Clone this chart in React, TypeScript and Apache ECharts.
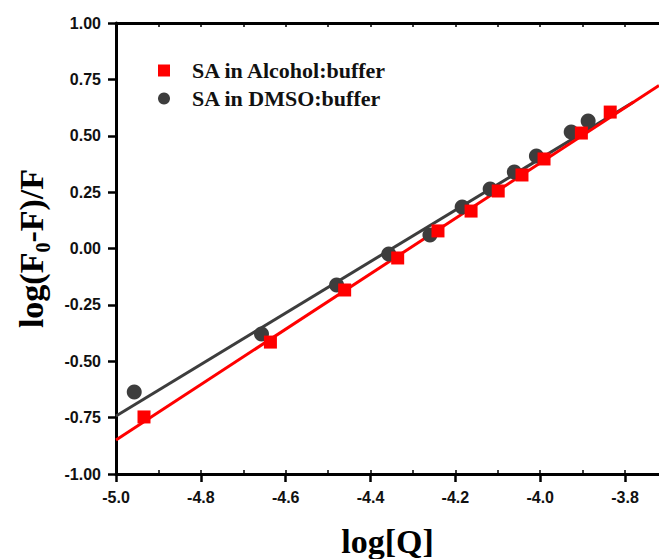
import React, { useEffect, useRef } from "react";
import * as echarts from "echarts";

const alcoholX = [-4.934, -4.636, -4.461, -4.336, -4.241, -4.163, -4.099, -4.043, -3.991, -3.903, -3.835];
const alcoholY = [-0.747, -0.415, -0.184, -0.042, 0.078, 0.166, 0.255, 0.326, 0.397, 0.512, 0.605];
const dmsoX = [-4.957, -4.657, -4.48, -4.357, -4.26, -4.184, -4.118, -4.061, -4.009, -3.927, -3.887];
const dmsoY = [-0.636, -0.379, -0.162, -0.024, 0.06, 0.184, 0.264, 0.339, 0.41, 0.517, 0.565];
const alcoholFitX = [-5.0, -3.72];
const alcoholFitY = [-0.849, 0.723];
const dmsoFitX = [-5.0, -3.78];
const dmsoFitY = [-0.743, 0.65];
const xMajorTicks = [-5.0, -4.8, -4.6, -4.4, -4.2, -4.0, -3.8];
const xMinorTicks = [-5.0, -4.9, -4.8, -4.7, -4.6, -4.5, -4.4, -4.3, -4.2, -4.1, -4.0, -3.9, -3.8];
const yTicks = [-1.0, -0.75, -0.5, -0.25, 0.0, 0.25, 0.5, 0.75, 1.0];
const seriesNames = ["SA in Alcohol:buffer", "SA in DMSO:buffer"];
const xTitle = "log[Q]";

const RED = "#ff0000";
const GRAY = "#3d3d3d";
const SERIF = "'Liberation Serif', 'Times New Roman', serif";
const SANS = "'Liberation Sans', Arial, sans-serif";

const zip = (xs: number[], ys: number[]) => xs.map((x, i) => [x, ys[i]]);

export default function App() {
  const ref = useRef<HTMLDivElement>(null);
  useEffect(() => {
    if (!ref.current) return;
    const chart = echarts.init(ref.current, undefined, { renderer: "svg" });
    const xMin = xMajorTicks[0];
    const xMax = -3.72;
    const baseX = { type: "value", min: xMin, max: xMax, splitLine: { show: false } };
    chart.setOption({
      animation: false,
      backgroundColor: "#fff",
      grid: { left: 116, top: 23, right: 0, bottom: 85, containLabel: false, outerBoundsMode: "none" },
      legend: {
        orient: "vertical",
        left: 153,
        top: 54,
        itemWidth: 12,
        itemHeight: 12,
        itemGap: 5,
        data: [
          { name: seriesNames[0], icon: "rect", itemStyle: { opacity: 1 } },
          { name: seriesNames[1], icon: "circle", itemStyle: { opacity: 1 } },
        ],
        textStyle: {
          fontFamily: SERIF,
          fontWeight: "bold",
          fontSize: 22,
          color: "#111",
          lineHeight: 23,
          padding: [0, 0, 0, 17],
        },
      },
      xAxis: [
        {
          ...baseX,
          position: "bottom",
          interval: 0.2,
          axisLine: { show: true, onZero: false, lineStyle: { color: "#000", width: 3 } },
          axisTick: { show: true, inside: false, length: 8, lineStyle: { color: "#000", width: 2.5 }, customValues: xMajorTicks },
          axisLabel: {
            customValues: xMajorTicks,
            formatter: (v: number) => v.toFixed(1),
            fontFamily: SANS,
            fontWeight: "bold",
            fontSize: 16,
            color: "#111",
            margin: 15,
          },
          name: xTitle,
          nameLocation: "middle",
          nameGap: 49,
          nameTextStyle: { fontFamily: SERIF, fontWeight: "bold", fontSize: 34, color: "#000", lineHeight: 36 },
        },
        {
          ...baseX,
          position: "bottom",
          interval: 0.1,
          axisLine: { show: false, onZero: false },
          axisTick: { show: true, inside: true, length: 4, lineStyle: { color: "#000", width: 1.5 }, customValues: xMinorTicks },
          axisLabel: { show: false },
        },
        {
          ...baseX,
          position: "top",
          interval: 0.1,
          axisLine: { show: true, onZero: false, lineStyle: { color: "#000", width: 3 } },
          axisTick: { show: true, inside: true, length: 4, lineStyle: { color: "#000", width: 1.5 }, customValues: xMinorTicks },
          axisLabel: { show: false },
        },
      ],
      yAxis: {
        type: "value",
        min: yTicks[0],
        max: yTicks[yTicks.length - 1],
        interval: 0.25,
        splitLine: { show: false },
        axisLine: { show: true, onZero: false, lineStyle: { color: "#000", width: 3 } },
        axisTick: { show: true, inside: false, length: 8, lineStyle: { color: "#000", width: 2.5 } },
        axisLabel: {
          formatter: (v: number) => v.toFixed(2),
          fontFamily: SANS,
          fontWeight: "bold",
          fontSize: 16,
          color: "#111",
          margin: 15,
        },
        name: "{a|log(F}{s|0}{a|-F)/F}",
        nameLocation: "middle",
        nameGap: 63,
        nameTextStyle: {
          rich: {
            a: { fontFamily: SERIF, fontWeight: "bold", fontSize: 34, color: "#000", lineHeight: 44 },
            s: { fontFamily: SERIF, fontWeight: "bold", fontSize: 20, color: "#000", lineHeight: 20, verticalAlign: "bottom" },
          },
        },
      },
      series: [
        {
          name: seriesNames[1] + " fit",
          type: "line",
          data: zip(dmsoFitX, dmsoFitY),
          symbol: "none",
          lineStyle: { color: GRAY, width: 3 },
          z: 2,
        },
        {
          name: seriesNames[0] + " fit",
          type: "line",
          data: zip(alcoholFitX, alcoholFitY),
          symbol: "none",
          lineStyle: { color: RED, width: 3 },
          z: 3,
        },
        {
          name: seriesNames[1],
          type: "scatter",
          data: zip(dmsoX, dmsoY),
          symbol: "circle",
          symbolSize: 15,
          itemStyle: { color: GRAY, opacity: 1 },
          z: 4,
        },
        {
          name: seriesNames[0],
          type: "scatter",
          data: zip(alcoholX, alcoholY),
          symbol: "rect",
          symbolSize: 13,
          itemStyle: { color: RED, opacity: 1 },
          z: 5,
        },
      ],
    });
    return () => chart.dispose();
  }, []);
  return <div ref={ref} style={{ position: "fixed", left: 0, top: 0, width: 659, height: 559 }} />;
}
